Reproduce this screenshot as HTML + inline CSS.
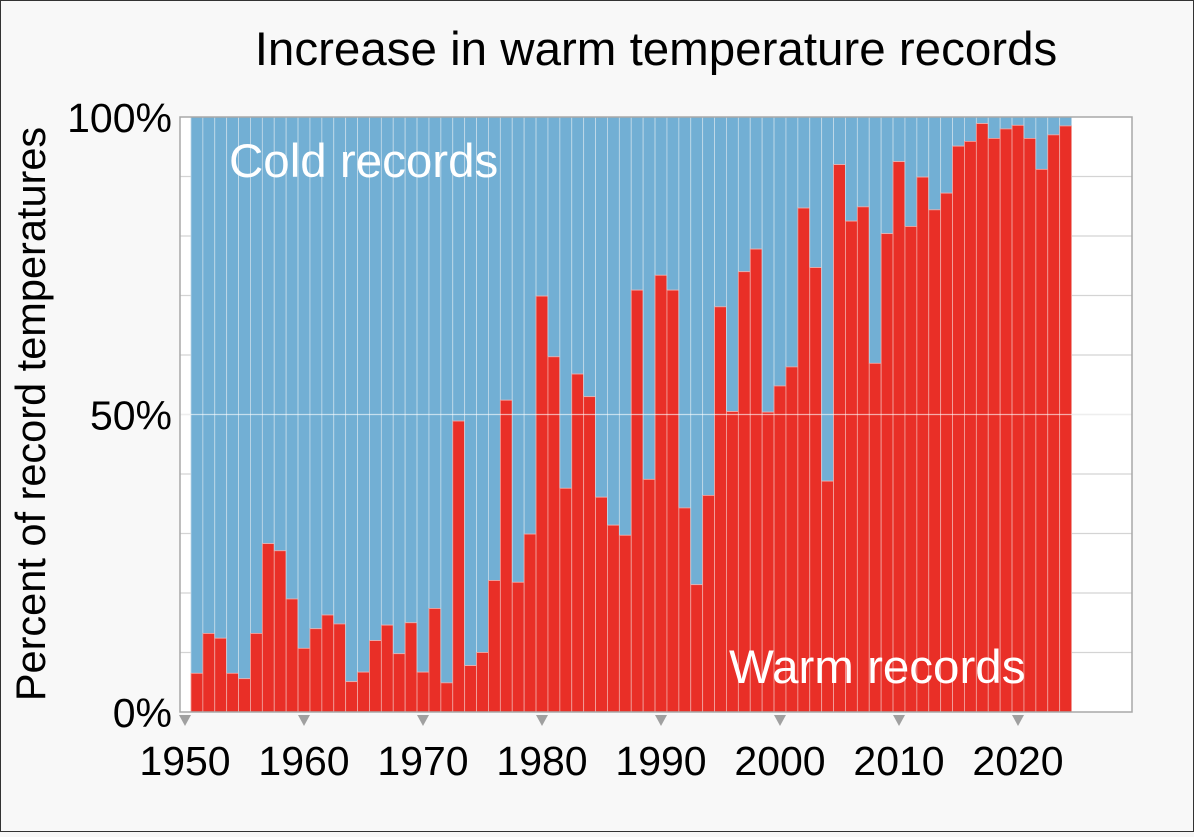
<!DOCTYPE html>
<html><head><meta charset="utf-8"><style>
html,body{margin:0;padding:0;background:#f8f8f8;}
body{width:1194px;height:832px;overflow:hidden;font-family:"Liberation Sans",sans-serif;}
</style></head><body>
<svg id="chart" width="1194" height="832" xmlns="http://www.w3.org/2000/svg" font-family="Liberation Sans, sans-serif">
<rect x="0.5" y="0.5" width="1193" height="831" fill="#f8f8f8" stroke="#333" stroke-width="1"/>
<text x="656" y="65" font-size="47.5" text-anchor="middle" fill="#000">Increase in warm temperature records</text>
<text transform="translate(45,414) rotate(-90)" font-size="41.5" text-anchor="middle" fill="#000">Percent of record temperatures</text>
<g id="plot"></g>
</svg>
<script>
const years = [];
for (let y = 1951; y <= 2024; y++) years.push(y);
const warmPct = [6.5,13.2,12.4,6.5,5.6,13.2,28.3,27.1,19.0,10.7,14.0,16.3,14.8,5.1,6.7,12.0,14.6,9.8,15.0,6.7,17.4,4.9,48.9,7.8,10.0,22.1,52.4,21.8,29.9,69.9,59.7,37.6,56.8,53.0,36.1,31.4,29.7,70.9,39.1,73.4,70.9,34.3,21.4,36.4,68.1,50.5,74.0,77.8,50.4,54.8,58.0,84.7,74.7,38.8,92.0,82.5,84.9,58.6,80.4,92.5,81.6,89.9,84.4,87.2,95.1,95.9,98.9,96.4,98.0,98.6,96.4,91.2,97.0,98.5];
const xTickYears = [1950,1960,1970,1980,1990,2000,2010,2020];
const yTickValues = [0,50,100];
const yTickLabels = ["0%","50%","100%"];

const NS = "http://www.w3.org/2000/svg";
const L = 180, R = 1132, T = 117, B = 712;
const yearW = 11.9;
const xScale = y => 185 + (y - 1950) * yearW;
const yScale = v => B - (v / 100) * (B - T);
const g = document.getElementById('plot');
function mk(tag, attrs) {
  const e = document.createElementNS(NS, tag);
  for (const k in attrs) e.setAttribute(k, attrs[k]);
  g.appendChild(e);
  return e;
}
let e = mk('rect', {x: L, y: T, width: R - L, height: B - T, fill: '#fff'});


for (let v = 10; v < 100; v += 10) {
  e = mk('line', {x1: L, x2: R, y1: yScale(v), y2: yScale(v), stroke: '#d4d4d4', 'stroke-width': 1.2});
  
  
}
years.forEach((yr, i) => {
  const x0 = xScale(yr) - yearW / 2;
  const w = warmPct[i];
  e = mk('rect', {x: x0, y: T, width: yearW, height: yScale(w) - T, fill: '#72afd4', stroke: '#c5dcea', 'stroke-width': 0.8});
  
  
  e = mk('rect', {x: x0, y: yScale(w), width: yearW, height: B - yScale(w), fill: '#e92f27', stroke: '#f2a8a4', 'stroke-width': 0.8});
  
  
});
e = mk('line', {x1: L, x2: R, y1: yScale(50), y2: yScale(50), stroke: '#ffffff', 'stroke-opacity': 0.6, 'stroke-width': 1.2});


e = mk('rect', {x: L, y: T, width: R - L, height: B - T, fill: 'none', stroke: '#a8a8a8', 'stroke-width': 1.5});


xTickYears.forEach(yr => {
  const x = xScale(yr);
  e = mk('path', {d: `M${x-6},715 L${x+6},715 L${x},726 Z`, fill: '#a0a0a0'});
  
  
  e = mk('text', {x: x, y: 775, 'font-size': 41, 'text-anchor': 'middle', fill: '#000'});
  e.textContent = yr;
  
  
});
yTickValues.forEach((v, i) => {
  e = mk('text', {x: 172, y: yScale(v) + 15, 'font-size': 41, 'text-anchor': 'end', fill: '#000'});
  e.textContent = yTickLabels[i];
  
  
});
e = mk('text', {x: 229, y: 177, 'font-size': 47.5, fill: '#fff'});
e.textContent = 'Cold records';


e = mk('text', {x: 729, y: 683, 'font-size': 47.5, fill: '#fff'});
e.textContent = 'Warm records';


</script>
</body></html>
